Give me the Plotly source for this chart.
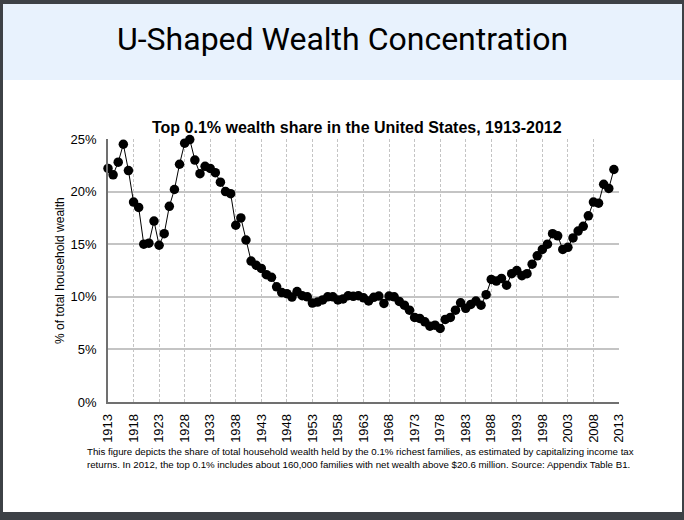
import plotly.graph_objects as go

years = list(range(1913, 2013))
share = [
    22.2, 21.6, 22.8, 24.5, 22.0, 19.0, 18.5, 15.0, 15.1, 17.2,   # 1913-1922
    14.9, 16.0, 18.6, 20.2, 22.6, 24.6, 24.95, 23.0, 21.7, 22.4,  # 1923-1932
    22.2, 21.8, 20.9, 20.0, 19.8, 16.8, 17.5, 15.4, 13.4, 13.0,   # 1933-1942
    12.7, 12.1, 11.85, 10.95, 10.4, 10.3, 9.97, 10.5, 10.1, 10.0, # 1943-1952
    9.4, 9.5, 9.7, 10.0, 10.0, 9.7, 9.8, 10.1, 10.05, 10.1,       # 1953-1962
    9.9, 9.6, 9.95, 10.07, 9.37, 10.07, 10.0, 9.56, 9.2, 8.73,    # 1963-1972
    8.04, 7.94, 7.62, 7.2, 7.3, 6.99, 7.85, 8.04, 8.73, 9.43,     # 1973-1982
    8.9, 9.27, 9.6, 9.2, 10.2, 11.65, 11.5, 11.75, 11.1, 12.2,    # 1983-1992
    12.5, 12.0, 12.2, 13.1, 13.9, 14.5, 15.0, 16.0, 15.8, 14.5,   # 1993-2002
    14.7, 15.6, 16.25, 16.7, 17.7, 19.0, 18.9, 20.7, 20.3, 22.1,  # 2003-2012
]
x_ticks = list(range(1913, 2014, 5))
y_ticks = [0, 5, 10, 15, 20, 25]

slide_title = "U-Shaped Wealth Concentration"
chart_title = "Top 0.1% wealth share in the United States, 1913-2012"
y_title = "% of total household wealth"
note_lines = [
    "This figure depicts the share of total household wealth held by the 0.1% richest families, as estimated by capitalizing income tax",
    "returns. In 2012, the top 0.1% includes about 160,000 families with net wealth above $20.6 million. Source: Appendix Table B1.",
]

W, H = 684, 520
ML, MR, MT, MB = 108, 65, 139, 118
PW = W - ML - MR
PH = H - MT - MB
DARK = "#3d4146"


def fx(px):
    return (px - ML) / PW


def fy(py):
    return (H - MB - py) / PH


fig = go.Figure()
fig.add_trace(go.Scatter(
    x=years, y=share, mode="lines+markers",
    line=dict(color="black", width=1),
    marker=dict(color="black", size=9.5),
    cliponaxis=False, showlegend=False,
))

shapes = [
    dict(type="rect", xref="paper", yref="paper", x0=fx(3), x1=fx(682), y0=fy(512), y1=fy(4),
         fillcolor="white", line=dict(width=0), layer="below"),
    dict(type="rect", xref="paper", yref="paper", x0=fx(3), x1=fx(682), y0=fy(80), y1=fy(4),
         fillcolor="#e8f2fd", line=dict(width=0), layer="below"),
]

annotations = [
    dict(text=slide_title, xref="paper", yref="paper", x=fx(342), y=fy(39),
         xanchor="center", yanchor="middle", showarrow=False,
         font=dict(family="Roboto", size=32, weight=400, color="black")),
    dict(text="<b>" + chart_title + "</b>", xref="paper", yref="paper", x=fx(357), y=fy(127),
         xanchor="center", yanchor="middle", showarrow=False,
         font=dict(family="Liberation Sans, Arial", size=16, color="black")),
    dict(text=y_title, xref="paper", yref="paper", x=fx(60), y=fy(271), textangle=-90,
         xanchor="center", yanchor="middle", showarrow=False,
         font=dict(family="Liberation Sans, Arial", size=12, color="black")),
    dict(text="<br>".join(note_lines), xref="paper", yref="paper", x=fx(85), y=fy(444),
         xanchor="left", yanchor="top", align="left", showarrow=False,
         font=dict(family="Liberation Sans, Arial", size=9.7, color="black")),
]

fig.update_layout(
    width=W, height=H,
    margin=dict(l=ML, r=MR, t=MT, b=MB, pad=0),
    paper_bgcolor=DARK,
    plot_bgcolor="rgba(0,0,0,0)",
    shapes=shapes,
    annotations=annotations,
    font=dict(family="Liberation Sans, Arial", size=12, color="black"),
)
fig.update_xaxes(
    range=[1913, 2013], tickmode="array", tickvals=x_ticks,
    ticktext=[str(v) for v in x_ticks], tickangle=-90,
    showgrid=True, gridcolor="#c4c4c4", griddash="3px,2px", gridwidth=1,
    showline=True, linecolor="#707070", linewidth=1.5,
    ticks="", ticklabelstandoff=5, zeroline=False,
    tickfont=dict(family="Liberation Sans, Arial", size=13, color="black"),
)
fig.update_yaxes(
    range=[0, 25], tickmode="array", tickvals=y_ticks,
    ticktext=[f"{v}%" for v in y_ticks],
    showgrid=True, gridcolor="#c4c4c4", gridwidth=1.5,
    showline=True, linecolor="#707070", linewidth=1.5,
    ticks="", ticklabelstandoff=7, zeroline=False,
    tickfont=dict(family="Liberation Sans, Arial", size=13, color="black"),
)

fig.write_html(
    "out.html",
    config={"displayModeBar": False},
    post_script="document.body.style.margin='0';document.body.style.background='" + DARK + "';",
)
